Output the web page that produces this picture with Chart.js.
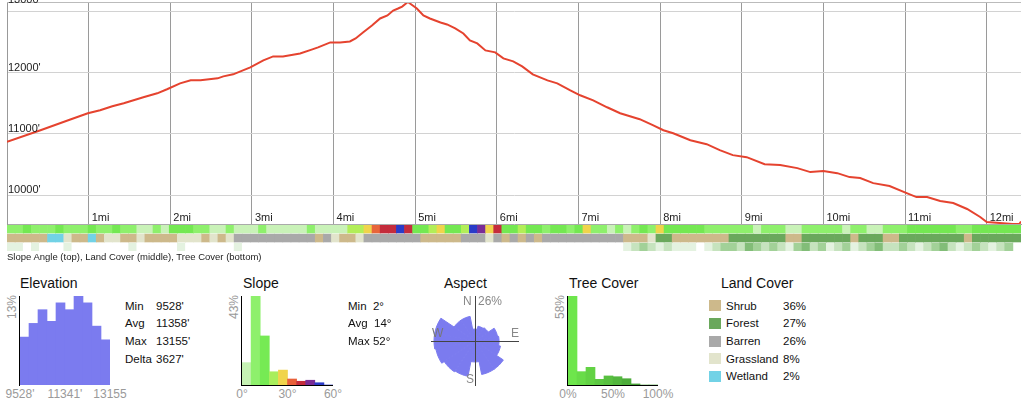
<!DOCTYPE html>
<html>
<head>
<meta charset="utf-8">
<script src="https://cdn.jsdelivr.net/npm/chart.js@4"></script>
<style>
  html, body { margin: 0; padding: 0; background: #fff; }
  body { width: 1024px; height: 406px; position: relative; overflow: hidden;
         font-family: "Liberation Sans", Arial, sans-serif; color: #111; }
  canvas, .t, .sw { position: absolute; }
  .t { white-space: pre; }
</style>
</head>
<body>
<canvas id="profile" width="1024" height="226" style="left:0px;top:0px"></canvas>
<canvas id="strips" width="1024" height="28" style="left:0px;top:224px"></canvas>
<canvas id="elevHist" width="91" height="91" style="left:19px;top:295px"></canvas>
<canvas id="slopeHist" width="92" height="91" style="left:241px;top:295px"></canvas>
<canvas id="aspect" width="90" height="90" style="left:430px;top:296px"></canvas>
<canvas id="treeHist" width="91" height="91" style="left:567px;top:295px"></canvas>
<script>
// elevation profile
const miles = [0, 0.41, 0.75, 0.99, 1.14, 1.29, 1.43, 1.67, 1.84, 1.96, 2.12, 2.25, 2.37, 2.58, 2.65,
  2.77, 2.98, 3.14, 3.26, 3.38, 3.59, 3.74, 3.81, 3.96, 4.08, 4.20, 4.27, 4.36, 4.47, 4.57,
  4.66, 4.73, 4.79, 4.84, 4.91, 5.02, 5.10, 5.18, 5.31, 5.39, 5.49, 5.59, 5.67, 5.76, 5.86,
  5.98, 6.08, 6.20, 6.31, 6.44, 6.62, 6.74, 6.90, 7.02, 7.18, 7.35, 7.51, 7.63, 7.75, 7.91,
  8.04, 8.16, 8.37, 8.57, 8.73, 8.89, 9.06, 9.28, 9.47, 9.68, 9.84, 10.00, 10.17, 10.32, 10.45,
  10.61, 10.81, 11.02, 11.14, 11.27, 11.43, 11.59, 11.76, 11.92, 12.00, 12.16, 12.32, 12.40, 12.42];
const elevation = [10870, 11060, 11223, 11337, 11386, 11452, 11500, 11598, 11663, 11729, 11826, 11875, 11875, 11908, 11940,
  11973, 12087, 12201, 12266, 12266, 12315, 12381, 12413, 12495, 12495, 12511, 12560, 12658, 12772, 12886,
  12935, 13016, 13049, 13081, 13155, 13049, 12935, 12886, 12821, 12788, 12723, 12641, 12527, 12478, 12364,
  12332, 12234, 12185, 12104, 11973, 11875, 11826, 11712, 11631, 11549, 11435, 11337, 11288, 11240, 11142,
  11060, 11011, 10897, 10832, 10734, 10653, 10620, 10506, 10490, 10441, 10376, 10392, 10359, 10294, 10278,
  10196, 10148, 10033, 9968, 9968, 9903, 9870, 9773, 9642, 9561, 9544, 9528, 9528, 9570];
const elevTicks = [10000, 11000, 12000, 13000];
const mileTicks = [1, 2, 3, 4, 5, 6, 7, 8, 9, 10, 11, 12];

// strips, one cell per 0.1 mile
const slopeCells = ("11211121112112110010222110010001000001000033456686" +
  "22342238746223221221241101012142222211111101110011" +
  "1110110011122222211222222").split("");
const landCells = ("SSSSSWWGSSWSGGSSGSSSSGGGSGSGBBBBBBBBBBSBGSSGBBBBBBB" +
  "SSSSSBBBGBSBSBSBBBBBBBBBBSSSGFFSSSSSSSFFFFFFFSSFFFFFFSFFFSSF" +
  "FFFFFFFSFFFFFFF").split("");
const treeCells = ("11010001000000010000010000001000000000000000000000" +
  "00000000000000000000000000123212111012332432321342312312342" +
  "2321234212321 23").replace(" ", "").split("");

const slopeColors = ["#c9f2b8", "#8ef06c", "#74e852", "#b2ee58", "#f0d44c", "#e8653a", "#c42c3c", "#7a2c96", "#2a3cc8"];
const landColors = { S: "#cdb98b", F: "#6aa85c", B: "#a9a9a9", G: "#e2e4cc", W: "#72d2e6" };
const treeColors = ["#ffffff", "#e4f2e0", "#c6e3be", "#a2d198", "#82bd78", "#64a95c"];

// summary panels
const elevBins = [7.0, 9.0, 11.0, 9.3, 12.0, 11.0, 13.0, 12.0, 8.6, 6.6];
const slopeBins = [10.8, 43, 23.7, 6.4, 7.2, 2.9, 1.8, 2.3, 1.1, 0];
const slopeBinColors = ["#c6f2b4", "#8ef06c", "#76ea54", "#a8ee5c", "#f0d44c", "#e8603a", "#c42c3c", "#7a2c96", "#2a3cc8", "#2a3cc8"];
const treeBins = [58, 8.7, 11.5, 3.7, 5.9, 5.4, 4.1, 0.7, 0, 0];
const treeBinColors = ["#6ee64c", "#68dc48", "#62d244", "#5cc842", "#58c040", "#52b63e", "#4cac3a", "#48a238", "#48a238", "#48a238"];
const aspectDirs = ["N", "NNE", "NE", "ENE", "E", "ESE", "SE", "SSE", "S", "SSW", "SW", "WSW", "W", "WNW", "NW", "NNW"];
const aspectVals = [6.9, 8.7, 9.2, 13.3, 13.9, 15.0, 19.7, 19.7, 12.1, 20.8, 21.4, 23.1, 23.7, 23.7, 14.5, 14.5];
const elevStatNames = ["Min", "Avg", "Max", "Delta"];
const elevStatValues = ["9528'", "11358'", "13155'", "3627'"];
const slopeStats = ["Min  2°", "Avg  14°", "Max 52°"];
const elevAxisLabels = ["9528'", "11341'", "13155"];
const slopeAxisLabels = ["0°", "30°", "60°"];
const treeAxisLabels = ["0%", "50%", "100%"];
const landNames = ["Shrub", "Forest", "Barren", "Grassland", "Wetland"];
const landKeys = ["S", "F", "B", "G", "W"];
const landPct = ["36%", "27%", "26%", "8%", "2%"];

Chart.defaults.font.family = '"Liberation Sans", Arial, sans-serif';
Chart.defaults.animation = false;

function addText(str, x, baseY, size, color, center) {
  const d = document.createElement("div");
  const lh = Math.round(size * 1.25);
  d.className = "t";
  d.textContent = str;
  d.style.fontSize = size + "px";
  d.style.lineHeight = lh + "px";
  d.style.color = color || "#111";
  d.style.left = x + "px";
  d.style.top = (baseY - ((lh - 1.117 * size) / 2 + 0.905 * size)) + "px";
  if (center) d.style.transform = "translateX(-50%)";
  document.body.appendChild(d);
  return d;
}

function addRotated(str, cx, cy) {
  const d = document.createElement("div");
  d.className = "t";
  d.textContent = str;
  d.style.fontSize = "12px";
  d.style.lineHeight = "14px";
  d.style.color = "#9a9a9a";
  d.style.left = cx + "px";
  d.style.top = cy + "px";
  d.style.transform = "translate(-50%, -50%) rotate(-90deg)";
  document.body.appendChild(d);
}

const profileLabels = {
  id: "profileLabels",
  afterDatasetsDraw(chart) {
    const { ctx, chartArea, scales: { x, y } } = chart;
    ctx.save();
    ctx.strokeStyle = "#bbb";
    ctx.beginPath();
    ctx.moveTo(chartArea.left, chartArea.top + 0.5);
    ctx.lineTo(chartArea.right, chartArea.top + 0.5);
    ctx.stroke();
    ctx.fillStyle = "#222";
    ctx.font = '11px "Liberation Sans", Arial, sans-serif';
    y.ticks.forEach(t => {
      const py = y.getPixelForValue(t.value);
      const base = py - chartArea.top < 12 ? py - 8 : py - 2;
      ctx.fillText(t.value + "'", chartArea.left + 1, base);
    });
    x.ticks.forEach(t => {
      ctx.fillText(t.value + "mi", x.getPixelForValue(t.value) + 3, chartArea.bottom - 3);
    });
    ctx.restore();
  }
};

new Chart(document.getElementById("profile"), {
  type: "line",
  data: {
    datasets: [{
      data: miles.map((m, i) => ({ x: m, y: elevation[i] })),
      borderColor: "#e5432f",
      borderWidth: 2,
      pointRadius: 0,
      tension: 0
    }]
  },
  options: {
    responsive: false,
    layout: { padding: { left: 7, right: 3, top: 2, bottom: 2 } },
    plugins: { legend: { display: false }, tooltip: { enabled: false } },
    scales: {
      x: {
        type: "linear", min: 0, max: 12.42,
        afterBuildTicks: s => { s.ticks = mileTicks.map(v => ({ value: v })); },
        ticks: { display: false },
        grid: { color: "#9a9a9a", drawTicks: false },
        border: { color: "#aaa" }
      },
      y: {
        min: 9528, max: 13155,
        afterBuildTicks: s => { s.ticks = elevTicks.map(v => ({ value: v })); },
        ticks: { display: false },
        grid: { color: "#d2d2d2", drawTicks: false },
        border: { color: "#999" }
      }
    }
  },
  plugins: [profileLabels]
});

new Chart(document.getElementById("strips"), {
  type: "bar",
  data: {
    labels: slopeCells.map((_, i) => i),
    datasets: [
      { data: slopeCells.map(() => [2.08, 3]), backgroundColor: slopeCells.map(c => slopeColors[+c]) },
      { data: landCells.map(() => [1.04, 1.96]), backgroundColor: landCells.map(c => landColors[c]) },
      { data: treeCells.map(() => [0, 0.92]), backgroundColor: treeCells.map(c => treeColors[+c]) }
    ]
  },
  options: {
    responsive: false,
    layout: { padding: { left: 7, right: 3, top: 1, bottom: 1 } },
    datasets: { bar: { barPercentage: 1, categoryPercentage: 1, borderWidth: 0, grouped: false } },
    plugins: { legend: { display: false }, tooltip: { enabled: false } },
    scales: { x: { display: false }, y: { display: false, min: 0, max: 3 } }
  }
});

const axisLines = {
  id: "axisLines",
  afterDatasetsDraw(chart, args, opts) {
    const { ctx, chartArea: a } = chart;
    ctx.save();
    ctx.strokeStyle = "#000";
    ctx.lineWidth = 1;
    ctx.beginPath();
    ctx.moveTo(a.left - 0.5, a.top);
    ctx.lineTo(a.left - 0.5, a.bottom + 1);
    if (opts.bottom) {
      ctx.moveTo(a.left - 1, a.bottom + 0.5);
      ctx.lineTo(a.right, a.bottom + 0.5);
    }
    ctx.stroke();
    ctx.restore();
  }
};

function histogram(id, values, colors, max, bottom, axisLabels) {
  const canvas = document.getElementById(id);
  const chart = new Chart(canvas, {
    type: "bar",
    data: {
      labels: values.map((_, i) => i),
      datasets: [{ data: values, backgroundColor: colors, borderWidth: 0, barPercentage: 1, categoryPercentage: 1 }]
    },
    options: {
      responsive: false,
      layout: { padding: { left: 1, top: 1, bottom: 1, right: 0 } },
      plugins: { legend: { display: false }, tooltip: { enabled: false }, axisLines: { bottom: bottom } },
      scales: { x: { display: false }, y: { display: false, min: 0, max: max } }
    },
    plugins: [axisLines]
  });
  const a = chart.chartArea;
  const ox = canvas.offsetLeft;
  const xs = [a.left, (a.left + a.right) / 2, a.right];
  axisLabels.forEach((t, i) => addText(t, ox + xs[i], 398.5, 12, "#9a9a9a", true));
  addRotated(max + "%", ox + a.left - 8, canvas.offsetTop + a.top + 11);
  return chart;
}

histogram("elevHist", elevBins, "#7b7bef", 13, false, elevAxisLabels);
histogram("slopeHist", slopeBins, slopeBinColors, 43, true, slopeAxisLabels);
histogram("treeHist", treeBins, treeBinColors, 58, true, treeAxisLabels);

const crossLines = {
  id: "crossLines",
  afterDatasetsDraw(chart) {
    const { ctx } = chart;
    const r = chart.scales.r;
    ctx.save();
    ctx.strokeStyle = "#444";
    ctx.lineWidth = 1;
    ctx.beginPath();
    ctx.moveTo(Math.round(r.xCenter) + 0.5, r.yCenter - 45);
    ctx.lineTo(Math.round(r.xCenter) + 0.5, r.yCenter + 45);
    ctx.moveTo(r.xCenter - 44, Math.round(r.yCenter) + 0.5);
    ctx.lineTo(r.xCenter + 44, Math.round(r.yCenter) + 0.5);
    ctx.stroke();
    ctx.restore();
  }
};

new Chart(document.getElementById("aspect"), {
  type: "polarArea",
  data: {
    labels: aspectDirs,
    datasets: [{ data: aspectVals, backgroundColor: "#7b7bef", borderColor: "#7b7bef", borderWidth: 1 }]
  },
  options: {
    responsive: false,
    startAngle: -11.25,
    plugins: { legend: { display: false }, tooltip: { enabled: false } },
    scales: { r: { display: false, min: 0, max: 26, startAngle: -11.25 } }
  },
  plugins: [crossLines]
});

// titles and text
addText("Slope Angle (top), Land Cover (middle), Tree Cover (bottom)", 7, 260, 9.5, "#222");
addText("Elevation", 20, 288.3, 14);
addText("Slope", 243, 288.3, 14);
addText("Aspect", 444, 288.3, 14);
addText("Tree Cover", 569, 288.3, 14);
addText("Land Cover", 721, 288.3, 14);

const rowBase = [309.8, 327.4, 345.1, 362.7, 380.4];
elevStatNames.forEach((n, i) => {
  addText(n, 125, rowBase[i], 11.5);
  addText(elevStatValues[i], 156, rowBase[i], 11.5);
});
slopeStats.forEach((s, i) => addText(s, 348, rowBase[i], 11.5));

addText("N", 463, 306, 12, "#888");
addText("26%", 478, 306, 12, "#888");
addText("E", 511, 337.5, 12, "#888");
addText("W", 432, 337.5, 12, "#777");
addText("S", 466, 384, 12, "#888");

landNames.forEach((n, i) => {
  const sw = document.createElement("div");
  sw.className = "sw";
  sw.style.left = "709px";
  sw.style.top = (rowBase[i] - 4.1 - 5.5) + "px";
  sw.style.width = "12px";
  sw.style.height = "11px";
  sw.style.background = landColors[landKeys[i]];
  document.body.appendChild(sw);
  addText(n, 726, rowBase[i], 11.5);
  addText(landPct[i], 783, rowBase[i], 11.5);
});
</script>
</body>
</html>
